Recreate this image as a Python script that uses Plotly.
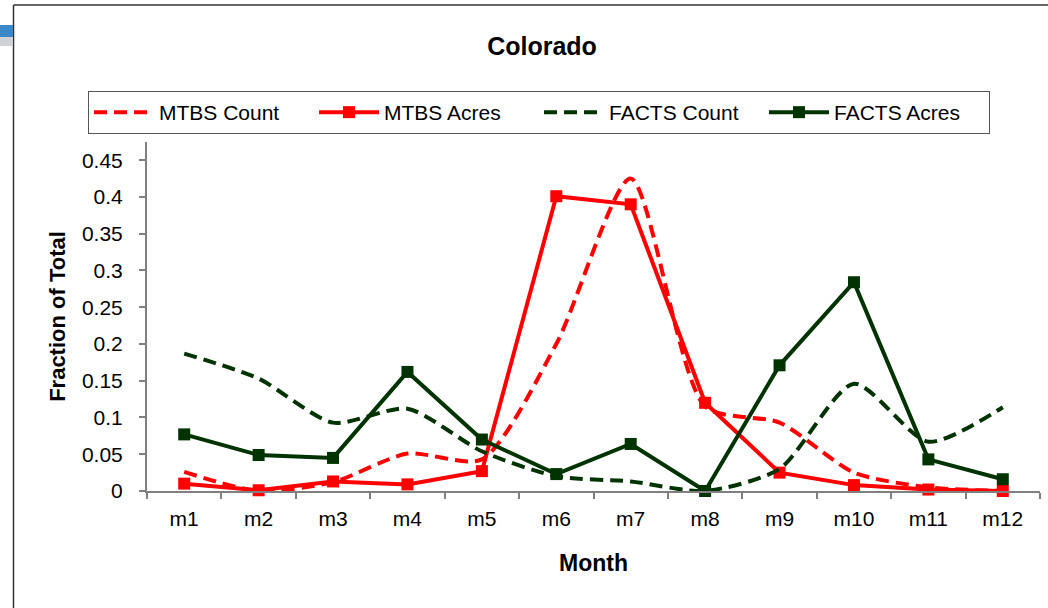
import plotly.graph_objects as go

# Monthly fraction of total fire activity, Colorado
months = ["m1", "m2", "m3", "m4", "m5", "m6", "m7", "m8", "m9", "m10", "m11", "m12"]
mtbs_count = [0.026, 0.0, 0.012, 0.051, 0.043, 0.200, 0.425, 0.115, 0.093, 0.025, 0.005, 0.0]
mtbs_acres = [0.010, 0.001, 0.013, 0.009, 0.027, 0.401, 0.390, 0.120, 0.025, 0.008, 0.002, 0.0]
facts_count = [0.187, 0.153, 0.093, 0.112, 0.054, 0.020, 0.013, 0.0, 0.030, 0.146, 0.067, 0.114]
facts_acres = [0.077, 0.049, 0.045, 0.162, 0.070, 0.023, 0.064, 0.0, 0.171, 0.284, 0.043, 0.016]

RED = "#FF0000"
GREEN = "#003300"
FONT = "Liberation Sans, Arial, sans-serif"

W, H = 1048, 608
ML, MR, MT, MB = 147, 8, 142, 117
PW = W - ML - MR
PH = H - MT - MB


def px_x(px):
    return (px - ML) / PW


def px_y(py):
    return (H - MB - py) / PH


fig = go.Figure()

fig.add_trace(go.Scatter(
    x=months, y=mtbs_count, name="MTBS Count", mode="lines",
    line=dict(color=RED, width=4, dash="13px,7px", shape="spline", smoothing=0.7),
    cliponaxis=False,
))
fig.add_trace(go.Scatter(
    x=months, y=mtbs_acres, name="MTBS Acres", mode="lines+markers",
    line=dict(color=RED, width=4),
    marker=dict(symbol="square", size=12, color=RED),
    cliponaxis=False,
))
fig.add_trace(go.Scatter(
    x=months, y=facts_count, name="FACTS Count", mode="lines",
    line=dict(color=GREEN, width=4, dash="13px,7px", shape="spline", smoothing=0.7),
    cliponaxis=False,
))
fig.add_trace(go.Scatter(
    x=months, y=facts_acres, name="FACTS Acres", mode="lines+markers",
    line=dict(color=GREEN, width=4),
    marker=dict(symbol="square", size=12, color=GREEN),
    cliponaxis=False,
))

# Slide frame and the decorative tab at the upper left
shapes = [
    dict(type="line", xref="paper", yref="paper",
         x0=px_x(13.5), x1=px_x(13.5), y0=px_y(5), y1=px_y(608),
         line=dict(color="#333333", width=1.5)),
    dict(type="line", xref="paper", yref="paper",
         x0=px_x(13.5), x1=px_x(1048), y0=px_y(5), y1=px_y(5),
         line=dict(color="#333333", width=1.5)),
    dict(type="rect", xref="paper", yref="paper",
         x0=px_x(0), x1=px_x(13), y0=px_y(25), y1=px_y(37),
         line=dict(width=0), fillcolor="#3c87c6"),
    dict(type="rect", xref="paper", yref="paper",
         x0=px_x(0), x1=px_x(13), y0=px_y(37), y1=px_y(46),
         line=dict(width=0), fillcolor="#cfd3d8"),
]

fig.update_layout(
    width=W, height=H,
    margin=dict(l=ML, r=MR, t=MT, b=MB),
    paper_bgcolor="white", plot_bgcolor="white",
    font=dict(family=FONT, color="black", size=21),
    title=dict(text="<b>Colorado</b>", x=542 / W, xref="container", xanchor="center",
               y=1 - 46 / H, yref="container", yanchor="middle",
               font=dict(family=FONT, size=25, color="black")),
    showlegend=True,
    legend=dict(
        orientation="h", x=px_x(88), xanchor="left", y=px_y(91), yanchor="top",
        bordercolor="#555555", borderwidth=1, bgcolor="white",
        font=dict(family=FONT, size=21, color="black"),
        entrywidth=150, itemwidth=60, traceorder="normal",
    ),
    shapes=shapes,
)

fig.update_xaxes(
    type="category", range=[-0.5, 11.5],
    showline=True, linecolor="#808080", linewidth=2,
    ticks="outside", tickson="boundaries", ticklen=6, tickcolor="#808080", tickwidth=2,
    showgrid=False, zeroline=False,
    ticklabelstandoff=8,
    tickfont=dict(family=FONT, size=21, color="black"),
    title=dict(text="<b>Month</b>", font=dict(family=FONT, size=23, color="black"), standoff=26),
)
fig.update_yaxes(
    range=[0, PH / 735.1], tick0=0, dtick=0.05,
    showline=True, linecolor="#808080", linewidth=2,
    ticks="outside", ticklen=6, tickcolor="#808080", tickwidth=2,
    showgrid=False, zeroline=False,
    tickformat="~g",
    ticklabelstandoff=12,
    tickfont=dict(family=FONT, size=21, color="black"),
    title=dict(text="<b>Fraction of Total</b>", font=dict(family=FONT, size=22, color="black"), standoff=10),
)

fig.write_html("out.html")
